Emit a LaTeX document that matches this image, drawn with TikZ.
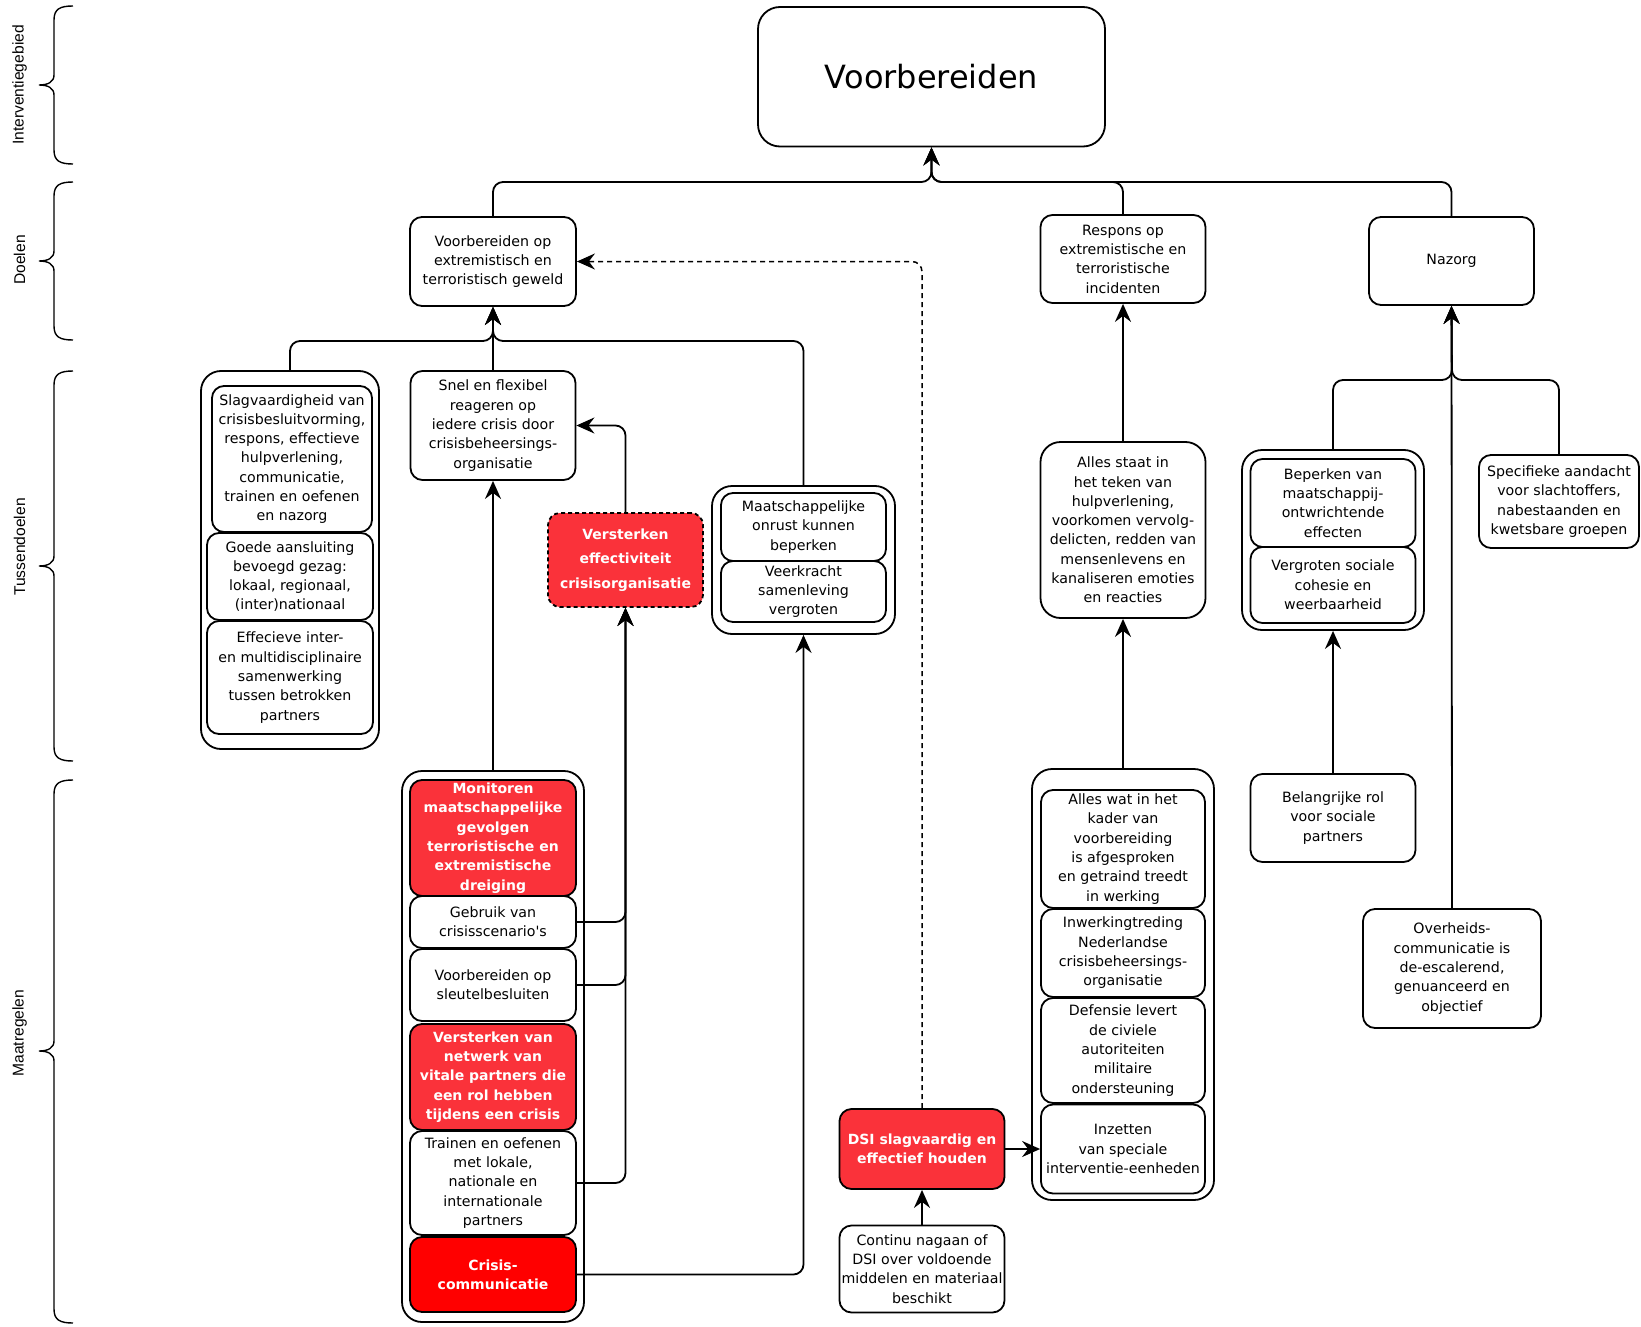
\documentclass[tikz,border=0pt]{standalone}
\usepackage{fontspec}
\setmainfont{DejaVu Sans}
\newfontfamily\arialf{Liberation Sans}
\usetikzlibrary{arrows.meta}
\definecolor{lred}{RGB}{250,50,58}
\definecolor{fred}{RGB}{255,0,0}
\newcommand\mybrace[3]{\draw[line width=1.4pt] (73,#1) .. controls (60,#1) and (54,{#1+3}) .. (54,{#1+14}) -- (54,{#2-10}) .. controls (54,{#2-3}) and (48,#2) .. (39,#2) .. controls (48,#2) and (54,{#2+3}) .. (54,{#2+10}) -- (54,{#3-14}) .. controls (54,{#3-3}) and (60,#3) .. (73,#3);}
\begin{document}
\begin{tikzpicture}[x=1pt,y=-1pt,
  sz/.style 2 args={minimum width=#1pt, minimum height=#2pt},
  bx/.style={draw, line width=1.8pt, rounded corners=12pt, align=center, inner sep=0pt, fill=white, font=\fontsize{14.2}{19.3}\selectfont},
  grp/.style={draw, line width=1.8pt, rounded corners=20pt, inner sep=0pt},
  redbx/.style={bx, fill=lred, text=white, font=\bfseries\fontsize{14}{19.3}\selectfont},
  sidelab/.style={rotate=90, font=\arialf\fontsize{15.6}{18}\selectfont},
  arr/.style={draw, line width=1.8pt, rounded corners=10pt, -{Stealth[length=18pt,width=16pt,inset=6pt,sharp]}},
  darr/.style={arr, dash pattern=on 5pt off 4pt, line width=1.5pt}
]
\useasboundingbox (0,0) rectangle (1641,1327);
\fill[white] (0,0) rectangle (1641,1327);

% braces and side labels
\mybrace{6}{85}{164}
\mybrace{182}{261}{340}
\mybrace{371}{566}{761}
\mybrace{780}{1051}{1323}
\node[sidelab] (lab1) at (19.5,85) {Interventiegebied};
\node[sidelab] (lab2) at (19.5,260) {Doelen};
\node[sidelab] (lab3) at (19.5,547) {Tussendoelen};
\node[sidelab] (lab4) at (19.5,1033) {Maatregelen};

% top
\node[bx, rounded corners=22pt, sz={347}{139.5}, font=\fontsize{32}{36}\selectfont] (top) at (931.5,76.75) {\raisebox{-2pt}{Voorbereiden}};

% doelen
\node[bx, sz={166}{89}] (d1) at (493,261.5) {Voorbereiden op\\extremistisch en\\terroristisch geweld};
\node[bx, sz={165}{88}] (d2) at (1123,259) {Respons op\\extremistische en\\terroristische\\incidenten};
\node[bx, sz={165}{88}] (d3) at (1451.5,261) {Nazorg};

% tussendoelen
\node[grp, sz={178}{378}] (t1g) at (290,560) {};
\node[bx, sz={160}{146}] (t1a) at (292,459) {Slagvaardigheid van\\crisisbesluitvorming,\\respons, effectieve\\hulpverlening,\\communicatie,\\trainen en oefenen\\en nazorg};
\node[bx, sz={166}{87}] (t1b) at (290,576.5) {Goede aansluiting\\bevoegd gezag:\\lokaal, regionaal,\\(inter)nationaal};
\node[bx, sz={166}{113}] (t1c) at (290,677.5) {Effecieve inter-\\en multidisciplinaire\\samenwerking\\tussen betrokken\\partners};

\node[bx, sz={165}{109}] (t2) at (493,425.5) {Snel en flexibel\\reageren op\\iedere crisis door\\crisisbeheersings-\\organisatie};

\node[redbx, dash pattern=on 4pt off 3pt, sz={155}{94}, font=\bfseries\fontsize{14}{24.5}\selectfont] (red) at (625.5,560) {Versterken\\effectiviteit\\crisisorganisatie};

\node[grp, sz={183}{148}] (t3g) at (803.5,560) {};
\node[bx, sz={165}{68}] (t3a) at (803.5,527) {Maatschappelijke\\onrust kunnen\\beperken};
\node[bx, sz={165}{61}] (t3b) at (803.5,591.5) {Veerkracht\\samenleving\\vergroten};

\node[bx, rounded corners=20pt, sz={165}{176}] (t4) at (1123,530) {Alles staat in\\het teken van\\hulpverlening,\\voorkomen vervolg-\\delicten, redden van\\mensenlevens en\\kanaliseren emoties\\en reacties};

\node[grp, sz={182}{180}] (t5g) at (1333,540) {};
\node[bx, sz={165}{88}] (t5a) at (1333,503) {Beperken van\\maatschappij-\\ontwrichtende\\effecten};
\node[bx, sz={165}{76}] (t5b) at (1333,585) {Vergroten sociale\\cohesie en\\weerbaarheid};

\node[bx, sz={160}{93}] (t6) at (1559,501.5) {Specifieke aandacht\\voor slachtoffers,\\nabestaanden en\\kwetsbare groepen};

% maatregelen left group
\node[grp, sz={182}{551}] (mg) at (493,1046.5) {};
\node[redbx, sz={166}{116}] (m1) at (493,838) {Monitoren\\maatschappelijke\\gevolgen\\terroristische en\\extremistische\\dreiging};
\node[bx, sz={166}{52}] (m2) at (493,922) {Gebruik van\\crisisscenario\textquotesingle s};
\node[bx, sz={166}{72}] (m3) at (493,985) {Voorbereiden op\\sleutelbesluiten};
\node[redbx, sz={166}{106}] (m4) at (493,1077) {Versterken van\\netwerk van\\vitale partners die\\een rol hebben\\tijdens een crisis};
\node[bx, sz={166}{104}] (m5) at (493,1183) {Trainen en oefenen\\met lokale,\\nationale en\\internationale\\partners};
\node[redbx, fill=fred, sz={166}{75}] (m6) at (493,1274.5) {Crisis-\\communicatie};

% DSI
\node[redbx, sz={165}{80}] (dsi) at (922,1149) {DSI slagvaardig en\\effectief houden};
\node[bx, sz={165}{87}] (cont) at (922,1269) {Continu nagaan of\\DSI over voldoende\\middelen en materiaal\\beschikt};

% right maatregelen group
\node[grp, sz={182}{431}] (rg) at (1123,984.5) {};
\node[bx, sz={164}{118}] (r1) at (1123,849) {Alles wat in het\\kader van\\voorbereiding\\is afgesproken\\en getraind treedt\\in werking};
\node[bx, sz={164}{88}] (r2) at (1123,953) {Inwerkingtreding\\Nederlandse\\crisisbeheersings-\\organisatie};
\node[bx, sz={164}{105}] (r3) at (1123,1050.5) {Defensie levert\\de civiele\\autoriteiten\\militaire\\ondersteuning};
\node[bx, sz={164}{89}] (r4) at (1123,1149) {Inzetten\\van speciale\\interventie-eenheden};

\node[bx, sz={165}{88}] (bel) at (1333,818) {Belangrijke rol\\voor sociale\\partners};
\node[bx, sz={178}{119}] (ov) at (1452,968.5) {Overheids-\\communicatie is\\de-escalerend,\\genuanceerd en\\objectief};

% bus coordinates
\coordinate (topbus) at (931.5,182);
\coordinate (d1bus) at (493,341);
\coordinate (d3bus) at (1452,380);

% connectors
\draw[arr] (d1.north) |- (topbus) -- (top.south);
\draw[arr] (d2.north) |- (topbus) -- (top.south);
\draw[arr] (d3.north) |- (topbus) -- (top.south);

\draw[arr] (t1g.north) |- (d1bus) -- (d1.south);
\draw[arr] (t3g.north) |- (d1bus) -- (d1.south);
\draw[arr] (t2.north) -- (d1.south);

\draw[arr] (red.north) |- (t2.east);
\draw[arr] (mg.north) -- (t2.south);
\draw[arr] (m2.east) -| (red.south);
\draw[arr] (m3.east) -| (red.south);
\draw[arr] (m5.east) -| (red.south);
\draw[arr] (m6.east) -| (t3g.south);

\draw[darr] (dsi.north) |- (d1.east);
\draw[arr] (cont.north) -- (dsi.south);
\draw[arr] (dsi.east) -- (r4.west);

\draw[arr] (rg.north) -- (t4.south);
\draw[arr] (t4.north) -- (d2.south);

\draw[arr] (bel.north) -- (t5g.south);
\draw[arr] (t5g.north) |- (d3bus) -- (d3.south);
\draw[arr] (t6.north) |- (d3bus) -- (d3.south);
\draw[arr] (ov.north) -- (d3.south);
\end{tikzpicture}
\end{document}
